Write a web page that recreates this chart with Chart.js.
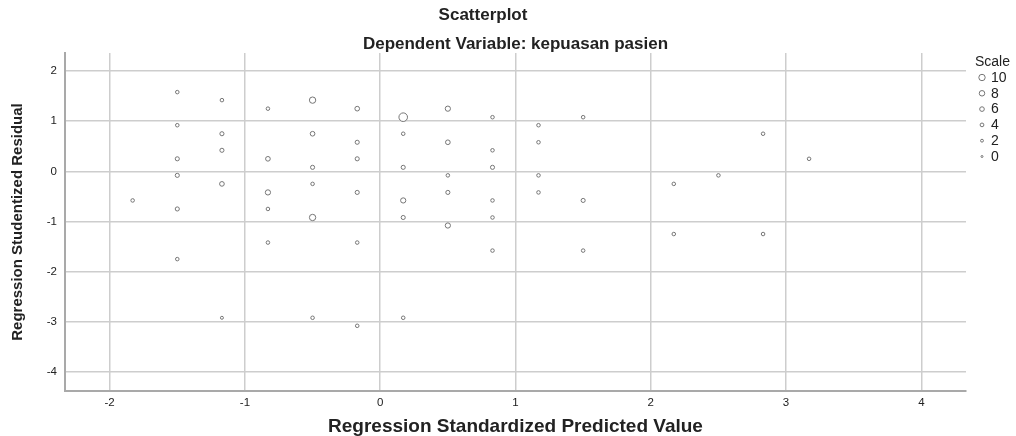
<!DOCTYPE html>
<html>
<head>
<meta charset="utf-8">
<script src="https://cdn.jsdelivr.net/npm/chart.js@4/dist/chart.umd.min.js"></script>
<style>
    html, body { margin: 0; padding: 0; background: #fff; }
    #wrap { width: 1016px; height: 436px; }
</style>
</head>
<body>
<div id="wrap"><canvas id="scatterChart"></canvas></div>
<script>
// predicted value (x), studentized residual (y), scale value per point
const predicted = [
    -1.5, -1.17, -0.83, -0.5, -0.17, 0.17, 0.5, 0.83, 1.17, 1.5,
    -1.5, -1.17, -0.5, -0.17, 0.17, 0.5, 0.83, 1.17, -1.17, -1.5,
    -0.83, -0.17, -0.5, 0.17, 0.83, -1.5, 0.5, 1.17, -1.17, -0.5,
    -0.83, -0.17, 0.5, 1.17, -1.83, 0.17, 0.83, 1.5, -1.5, -0.83,
    -0.5, 0.17, 0.83, 0.5, -0.83, -0.17, 0.83, 1.5, -1.5, -1.17,
    -0.5, 0.17, -0.17, 2.17, 2.5, 2.83, 3.17, 2.17, 2.83
];
const residual = [
    1.58, 1.42, 1.25, 1.42, 1.25, 1.08, 1.25, 1.08, 0.92, 1.08,
    0.92, 0.75, 0.75, 0.58, 0.75, 0.58, 0.42, 0.58, 0.42, 0.25,
    0.25, 0.25, 0.08, 0.08, 0.08, -0.08, -0.08, -0.08, -0.25, -0.25,
    -0.42, -0.42, -0.42, -0.42, -0.58, -0.58, -0.58, -0.58, -0.75, -0.75,
    -0.92, -0.92, -0.92, -1.08, -1.42, -1.42, -1.58, -1.58, -1.75, -2.92,
    -2.92, -2.92, -3.08, -0.25, -0.08, 0.75, 0.25, -1.25, -1.25
];
const scaleValues = [
    1, 1, 1, 6, 3, 10, 4, 1, 1, 1,
    1, 2, 3, 2, 1, 3, 1, 1, 2, 2,
    3, 2, 2, 2, 2, 2, 1, 1, 3, 1,
    4, 2, 2, 1, 1, 4, 1, 2, 2, 1,
    6, 2, 1, 4, 1, 1, 1, 1, 1, 0,
    1, 1, 1, 1, 1, 1, 1, 1, 1
];
const legendValues = [10, 8, 6, 4, 2, 0];

const pointColor = "#757575";
const textColor = "#222";
const fontFamily = "'Liberation Sans', Arial, sans-serif";

function radiusFor(s) {
    return 1.5 + s * 0.28;
}

const scaleLegend = {
    id: "scaleLegend",
    afterDraw(chart) {
        const ctx = chart.ctx;
        ctx.save();
        ctx.fillStyle = textColor;
        ctx.font = "14px " + fontFamily;
        ctx.textBaseline = "middle";
        ctx.textAlign = "left";
        ctx.fillText("Scale", 975, 62);
        legendValues.forEach((v, i) => {
            const y = 77.5 + i * 15.8;
            ctx.beginPath();
            ctx.arc(982, y, 1 + v * 0.22, 0, Math.PI * 2);
            ctx.strokeStyle = pointColor;
            ctx.lineWidth = 1;
            ctx.fillStyle = "#fff";
            ctx.fill();
            ctx.stroke();
            ctx.fillStyle = textColor;
            ctx.fillText(String(v), 991, y + 0.5);
        });
        ctx.restore();
    }
};

const points = predicted.map((x, i) => ({ x: x, y: residual[i] }));

new Chart(document.getElementById("scatterChart"), {
    type: "scatter",
    data: {
        datasets: [{
            data: points,
            backgroundColor: "#fff",
            borderColor: pointColor,
            borderWidth: 1,
            pointRadius: ctx => radiusFor(scaleValues[ctx.dataIndex]),
            pointHoverRadius: ctx => radiusFor(scaleValues[ctx.dataIndex])
        }]
    },
    options: {
        responsive: true,
        maintainAspectRatio: false,
        animation: false,
        layout: { padding: { left: 0, right: 50, top: 0, bottom: 0 } },
        plugins: {
            legend: { display: false },
            tooltip: { enabled: false },
            title: {
                display: true,
                text: "Scatterplot",
                color: textColor,
                font: { family: fontFamily, size: 17, weight: "bold", lineHeight: 1 },
                padding: { top: 7, bottom: 6 }
            },
            subtitle: {
                display: true,
                text: "Dependent Variable: kepuasan pasien",
                color: textColor,
                fullSize: false,
                font: { family: fontFamily, size: 17, weight: "bold", lineHeight: 1 },
                padding: { top: 6, bottom: 0 }
            }
        },
        scales: {
            x: {
                type: "linear",
                min: -2.33,
                max: 4.33,
                afterFit: s => { s.height = 45; },
                ticks: {
                    stepSize: 1,
                    includeBounds: false,
                    color: textColor,
                    padding: 5,
                    font: { family: fontFamily, size: 11.5 }
                },
                grid: { color: "#cdcdcd", lineWidth: 1.5, drawTicks: false },
                border: { display: true, color: "#a9a9a9", width: 2 },
                title: {
                    display: true,
                    text: "Regression Standardized Predicted Value",
                    color: textColor,
                    padding: { top: 0, bottom: 0 },
                    font: { family: fontFamily, size: 19, weight: "bold", lineHeight: 1 }
                }
            },
            y: {
                type: "linear",
                min: -4.38,
                max: 2.36,
                afterFit: s => { s.width = 65; },
                ticks: {
                    stepSize: 1,
                    includeBounds: false,
                    color: textColor,
                    padding: 8,
                    font: { family: fontFamily, size: 11.5 }
                },
                grid: { color: "#cdcdcd", lineWidth: 1.5, drawTicks: false },
                border: { display: true, color: "#a9a9a9", width: 2 },
                title: {
                    display: true,
                    text: "Regression Studentized Residual",
                    color: textColor,
                    padding: { top: 9, bottom: 0 },
                    font: { family: fontFamily, size: 15, weight: "bold" }
                }
            }
        }
    },
    plugins: [scaleLegend]
});
</script>
</body>
</html>
